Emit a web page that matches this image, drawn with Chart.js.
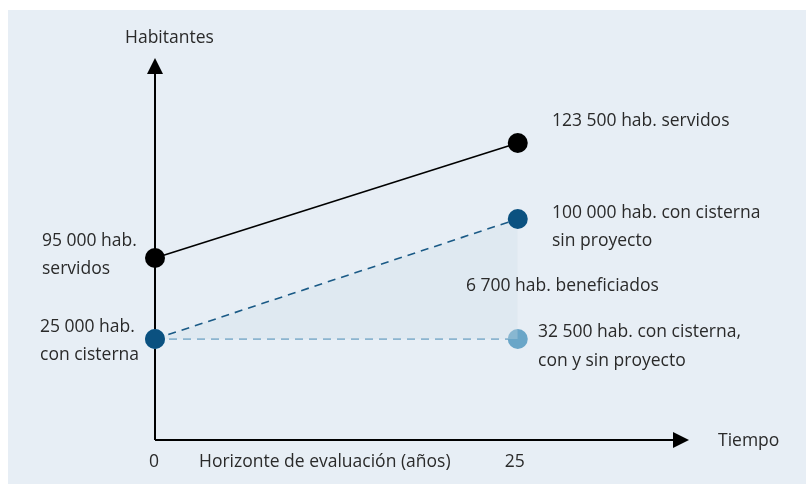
<!DOCTYPE html>
<html>
<head>
<meta charset="utf-8">
<script src="https://cdn.jsdelivr.net/npm/chart.js@4/dist/chart.umd.min.js"></script>
<style>
  html, body { margin: 0; padding: 0; background: #ffffff; }
  #wrap { position: absolute; left: 0; top: 0; width: 806px; height: 484px; }
</style>
</head>
<body>
<div id="wrap"><canvas id="c" width="806" height="484"></canvas></div>
<script>
// ---- Data ----
const years = [0, 25];                          // horizonte de evaluación (años)
const servedPop = [95000, 123500];              // hab. servidos
const cisternNoProjectPop = [25000, 100000];    // hab. con cisterna sin proyecto
const cisternBothPop = [25000, 32500];          // hab. con cisterna, con y sin proyecto
const benefitedPop = 6700;                      // hab. beneficiados
// schematic heights on the (unscaled) "Habitantes" axis, as drawn in the figure
const servedLevel = [182, 297];
const cisternNoProjectLevel = [101, 221];
const cisternBothLevel = [101, 101];
const xTickLabels = ['0', '25'];
const xAxisTitle = 'Horizonte de evaluación (años)';
const yAxisTitle = 'Habitantes';
const timeLabel = 'Tiempo';

const fmt = n => String(n).replace(/\B(?=(\d{3})+(?!\d))/g, ' ');
const pts = (xs, ys) => xs.map((x, i) => ({ x: x, y: ys[i] }));

const FONT = '17.5px "Open Sans", sans-serif';
const TXT = '#2a2a2a';

const bgPlugin = {
  id: 'bg',
  beforeDraw(chart) {
    const ctx = chart.ctx;
    ctx.save();
    ctx.fillStyle = '#ffffff';
    ctx.fillRect(0, 0, chart.width, chart.height);
    ctx.fillStyle = '#e7eef5';
    ctx.fillRect(8, 10, chart.width - 8, chart.height - 10);
    ctx.restore();
  }
};

const axesPlugin = {
  id: 'axes',
  beforeDatasetsDraw(chart) {
    const ctx = chart.ctx, xs = chart.scales.x, ys = chart.scales.y;
    const x0 = xs.getPixelForValue(0), y0 = ys.getPixelForValue(0);
    const xEnd = xs.right, yEnd = ys.top;
    ctx.save();
    ctx.strokeStyle = '#000'; ctx.fillStyle = '#000'; ctx.lineWidth = 2;
    ctx.beginPath();
    ctx.moveTo(x0, y0); ctx.lineTo(x0, yEnd + 14);
    ctx.moveTo(x0, y0); ctx.lineTo(xEnd - 14, y0);
    ctx.stroke();
    // arrowheads
    ctx.beginPath();
    ctx.moveTo(x0, yEnd); ctx.lineTo(x0 - 8, yEnd + 16); ctx.lineTo(x0 + 8, yEnd + 16); ctx.closePath();
    ctx.fill();
    ctx.beginPath();
    ctx.moveTo(xEnd, y0); ctx.lineTo(xEnd - 16, y0 - 8); ctx.lineTo(xEnd - 16, y0 + 8); ctx.closePath();
    ctx.fill();
    ctx.restore();
  },
  afterDatasetsDraw(chart) {
    const ctx = chart.ctx, xs = chart.scales.x, ys = chart.scales.y;
    const px = v => xs.getPixelForValue(v), py = v => ys.getPixelForValue(v);
    const x0 = px(years[0]), x1 = px(years[1]);
    const y0 = py(0);
    ctx.save();
    ctx.font = FONT; ctx.fillStyle = TXT; ctx.textBaseline = 'middle';
    ctx.textAlign = 'left';
    // y-axis title
    ctx.fillText(yAxisTitle, 125, 38);
    // left labels
    ctx.fillText(fmt(servedPop[0]) + ' hab.', 42, py(servedLevel[0]) - 17);
    ctx.fillText('servidos', 42, py(servedLevel[0]) + 11);
    ctx.fillText(fmt(cisternNoProjectPop[0]) + ' hab.', 40, py(cisternNoProjectLevel[0]) - 12);
    ctx.fillText('con cisterna', 40, py(cisternNoProjectLevel[0]) + 16);
    // right labels
    ctx.fillText(fmt(servedPop[1]) + ' hab. servidos', 552, py(servedLevel[1]) - 22);
    ctx.fillText(fmt(cisternNoProjectPop[1]) + ' hab. con cisterna', 552, py(cisternNoProjectLevel[1]) - 6);
    ctx.fillText('sin proyecto', 552, py(cisternNoProjectLevel[1]) + 22);
    ctx.fillText(fmt(benefitedPop) + ' hab. beneficiados', 466, 286);
    ctx.fillText(fmt(cisternBothPop[1]) + ' hab. con cisterna,', 538, py(cisternBothLevel[1]) - 7);
    ctx.fillText('con y sin proyecto', 538, py(cisternBothLevel[1]) + 22);
    // x axis texts
    ctx.fillText(timeLabel, 718, y0 + 1);
    ctx.fillText(xAxisTitle, 199, y0 + 22);
    ctx.textAlign = 'center';
    ctx.fillText(xTickLabels[0], x0 - 1, y0 + 22);
    ctx.fillText(xTickLabels[1], x1 - 3, y0 + 22);
    ctx.restore();
  }
};

new Chart(document.getElementById('c'), {
  type: 'scatter',
  data: {
    datasets: [
      {
        label: 'servidos',
        data: pts(years, servedLevel),
        showLine: true, borderColor: '#000000', borderWidth: 1.6,
        pointRadius: 10, pointBackgroundColor: '#000000', pointBorderWidth: 0,
        order: 1
      },
      {
        label: 'con cisterna sin proyecto',
        data: pts(years, cisternNoProjectLevel),
        showLine: true, borderColor: '#1a5a86', borderWidth: 1.6, borderDash: [8, 6],
        pointRadius: 10, pointBackgroundColor: '#0b5180', pointBorderWidth: 0,
        fill: { target: 2 }, backgroundColor: 'rgba(205,222,232,0.3)',
        order: 2
      },
      {
        label: 'con cisterna, con y sin proyecto',
        data: pts(years, cisternBothLevel),
        showLine: true, borderColor: '#6fa3c4', borderWidth: 1.6, borderDash: [8, 6],
        pointRadius: 10, pointBackgroundColor: '#6aa6c8', pointBorderWidth: 0,
        order: 3
      }
    ]
  },
  options: {
    responsive: false,
    animation: false,
    events: [],
    layout: { padding: { left: 155, right: 117, top: 58, bottom: 44 } },
    plugins: { legend: { display: false }, tooltip: { enabled: false }, filler: { propagate: false } },
    scales: {
      x: { type: 'linear', min: 0, max: 36.8, display: false },
      y: { type: 'linear', min: 0, max: 382, display: false }
    },
    clip: false
  },
  plugins: [bgPlugin, axesPlugin]
});
</script>
</body>
</html>
